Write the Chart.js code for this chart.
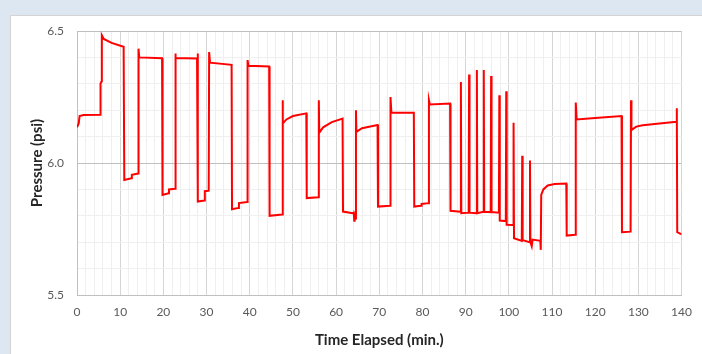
<!DOCTYPE html>
<html>
<head>
<meta charset="utf-8">
<script src="https://cdn.jsdelivr.net/npm/chart.js@4/dist/chart.umd.min.js"></script>
<style>
  html, body {
    margin: 0;
    padding: 0;
    background-color: #dde7f2;
    overflow: hidden;
  }
  .panel {
    position: absolute;
    left: 10px;
    top: 15px;
    width: 720px;
    height: 360px;
    background-color: white;
    border: 1px solid #d4d4d4;
  }
  #chart {
    position: absolute;
    left: 0;
    top: 0;
  }
</style>
</head>
<body>
<div class="panel"></div>
<canvas id="chart" width="702" height="354"></canvas>
<script>
'use strict';

// Time (min.) and pressure (psi) at each step
const timeMin = [
  0, 0.4, 0.6, 1.5, 5.4, 5.45, 5.7, 5.75, 6.2, 8, 10.8,
  10.95, 12.6, 12.7, 14.2, 14.25, 14.4, 19.7,
  19.8, 21.2, 21.3, 22.7, 22.75, 22.9, 27.8, 27.95,
  28.0, 29.5, 29.6, 30.5, 30.6, 30.8, 35.8,
  35.9, 37.4, 37.5, 39.4, 39.5, 39.7, 44.5,
  44.6, 47.5, 47.6, 47.7, 48.5, 50, 53.1,
  53.2, 55.9, 56.0, 56.1, 57, 59, 61.5,
  61.6, 63.8, 64.1, 64.2, 64.3, 64.5, 64.6, 64.7, 66, 69.6,
  69.7, 72.5, 72.6, 72.8, 78.0,
  78.1, 79.7, 79.8, 81.4, 81.5, 81.7, 86.4,
  86.5, 88.8, 88.9, 89.0, 90.7, 90.8, 90.9, 92.5, 92.6, 92.7,
  94.1, 94.2, 94.3, 95.8, 95.9, 96.0, 97.7, 97.8, 97.9,
  99.3, 99.4, 99.5, 101.0, 101.1, 101.2, 103.0, 103.1, 103.2,
  104.8, 104.9, 105.0, 105.3, 105.5, 107.3, 107.4,
  107.5, 108, 109, 110.6, 113.3,
  113.4, 115.4, 115.5, 115.7, 120, 126.1,
  126.2, 128.2, 128.3, 128.4, 129.5, 131, 138.8, 138.9,
  139.0, 140
];
const pressure = [
  6.135, 6.15, 6.178, 6.182, 6.183, 6.30, 6.31, 6.484, 6.47, 6.455, 6.44,
  5.936, 5.942, 5.955, 5.96, 6.433, 6.40, 6.397,
  5.879, 5.885, 5.90, 5.902, 6.415, 6.398, 6.396, 6.415,
  5.854, 5.858, 5.893, 5.895, 6.42, 6.38, 6.372,
  5.825, 5.83, 5.848, 5.852, 6.39, 6.368, 6.366,
  5.80, 5.805, 6.238, 6.15, 6.165, 6.178, 6.188,
  5.867, 5.87, 6.238, 6.115, 6.135, 6.155, 6.168,
  5.816, 5.81, 5.812, 5.781, 5.80, 5.79, 6.20, 6.118, 6.132, 6.144,
  5.835, 5.838, 6.25, 6.19, 6.19,
  5.835, 5.838, 5.845, 5.848, 6.238, 6.222, 6.225,
  5.819, 5.815, 6.307, 5.81, 5.812, 6.335, 5.812, 5.81, 6.352, 5.81,
  5.815, 6.352, 5.815, 5.814, 6.33, 5.814, 5.812, 6.257, 5.782,
  5.78, 6.272, 5.766, 5.765, 6.152, 5.715, 5.705, 6.027, 5.708,
  5.70, 6.009, 5.70, 5.685, 5.71, 5.705, 5.671,
  5.879, 5.90, 5.915, 5.92, 5.922,
  5.725, 5.728, 6.229, 6.165, 6.17, 6.178,
  5.738, 5.74, 6.238, 6.125, 6.138, 6.143, 6.156, 6.207,
  5.738, 5.73
];

// y labels shown only at these values; x labels every 10 min.
const yLabels = [5.5, 6.0, 6.5];
const xLabelStep = 10;

const points = timeMin.map((t, i) => ({x: t, y: pressure[i]}));

const isYLabel = (v) => yLabels.some((l) => Math.abs(l - v) < 1e-6);

const ctx = document.getElementById('chart').getContext('2d');
new Chart(ctx, {
  type: 'line',
  data: {
    datasets: [{
      data: points,
      borderColor: '#ff0000',
      borderWidth: 2,
      pointRadius: 0,
      tension: 0,
      fill: false
    }]
  },
  options: {
    responsive: false,
    animation: false,
    events: [],
    layout: {
      padding: {left: 0, top: 31, right: 12, bottom: 0}
    },
    plugins: {
      legend: {display: false},
      tooltip: {enabled: false}
    },
    scales: {
      x: {
        type: 'linear',
        min: 0,
        max: 140,
        afterFit: (s) => { s.height = 59; },
        border: {color: '#bfbfbf', width: 1},
        grid: {
          drawTicks: false,
          color: (c) => (c.tick && c.tick.value % xLabelStep === 0) ? '#d6d6d6' : '#efefef'
        },
        ticks: {
          stepSize: 2,
          autoSkip: false,
          maxRotation: 0,
          padding: 10,
          color: '#595959',
          font: {family: 'Lato', size: 12},
          callback: (v) => (v % xLabelStep === 0) ? String(v) : ''
        },
        title: {
          display: true,
          text: 'Time Elapsed (min.)',
          color: '#262626',
          font: {family: 'Lato', size: 15, weight: 'bold'},
          padding: {top: 0, bottom: 5}
        }
      },
      y: {
        min: 5.5,
        max: 6.5,
        afterFit: (s) => { s.width = 77; },
        border: {color: '#bfbfbf', width: 1},
        grid: {
          drawTicks: false,
          color: (c) => (c.tick && isYLabel(c.tick.value)) ? '#bfbfbf' : '#f0f0f0'
        },
        ticks: {
          stepSize: 0.1,
          autoSkip: false,
          padding: 13,
          color: '#595959',
          font: {family: 'Lato', size: 12},
          callback: (v) => isYLabel(v) ? v.toFixed(1) : ''
        },
        title: {
          display: true,
          text: 'Pressure (psi)',
          color: '#262626',
          font: {family: 'Lato', size: 15, weight: 'bold'},
          padding: {top: 28, bottom: 0}
        }
      }
    }
  }
});
</script>
</body>
</html>
